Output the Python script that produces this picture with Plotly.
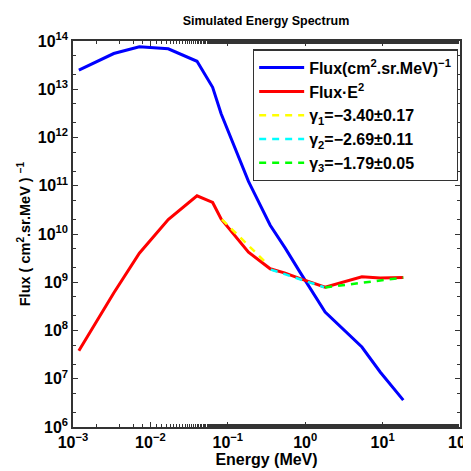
import plotly.graph_objects as go

# Data
energy = [0.00119, 0.00336, 0.0072, 0.0170, 0.040, 0.0637, 0.082, 0.185, 0.353, 0.552, 0.86, 1.81, 5.4, 9.3, 18.5]
flux = [2.5e13, 5.5e13, 7.6e13, 6.9e13, 3.8e13, 1.1e13, 3.1e12, 1.23e11, 1.52e10, 5.1e9, 1.6e9, 2.4e8, 4.55e7, 1.38e7, 3.6e6]
flux_e2 = [3.8e7, 6.0e8, 4.0e9, 2.0e10, 6.2e10, 4.5e10, 2.05e10, 4.2e9, 1.9e9, 1.55e9, 1.19e9, 7.9e8, 1.3e9, 1.22e9, 1.25e9]

fit1_e = [0.084, 0.305]
fit1_v = [2.0e10, 2.63e9]
fit2_e = [0.36, 1.75]
fit2_v = [1.83e9, 7.9e8]
fit3_e = [1.81, 18.5]
fit3_v = [7.8e8, 1.25e9]

names = [
    "Flux(cm<sup>2</sup>.sr.MeV)<sup>−1</sup>",
    "Flux·E<sup>2</sup>",
    "γ<sub>1</sub>=−3.40±0.17",
    "γ<sub>2</sub>=−2.69±0.11",
    "γ<sub>3</sub>=−1.79±0.05",
]

x_tickvals = [1e-3, 1e-2, 1e-1, 1, 10, 100]
x_ticktext = ["10<sup>−3</sup>", "10<sup>−2</sup>", "10<sup>−1</sup>", "10<sup>0</sup>", "10<sup>1</sup>", "10<sup>2</sup>"]
y_tickvals = [1e6, 1e7, 1e8, 1e9, 1e10, 1e11, 1e12, 1e13, 1e14]
y_ticktext = ["10<sup>%d</sup>" % k for k in range(6, 15)]

FONT = "Liberation Sans, Arial, Helvetica, sans-serif"

fig = go.Figure()
fig.add_trace(go.Scatter(x=energy, y=flux, mode="lines", name=names[0],
                         line=dict(color="#0000ff", width=3)))
fig.add_trace(go.Scatter(x=energy, y=flux_e2, mode="lines", name=names[1],
                         line=dict(color="#ff0000", width=3)))
fig.add_trace(go.Scatter(x=fit1_e, y=fit1_v, mode="lines", name=names[2],
                         line=dict(color="#ffff00", width=2.5, dash="7px,6px")))
fig.add_trace(go.Scatter(x=fit2_e, y=fit2_v, mode="lines", name=names[3],
                         line=dict(color="#00ffff", width=2.5, dash="7px,6px")))
fig.add_trace(go.Scatter(x=fit3_e, y=fit3_v, mode="lines", name=names[4],
                         line=dict(color="#00ff00", width=2.5, dash="7px,6px")))

axis_common = dict(
    type="log", showgrid=False, zeroline=False, showline=True, linecolor="#333333",
    linewidth=1.5, mirror="ticks", ticks="inside", ticklen=5, tickwidth=1, tickcolor="#333333",
    tickfont=dict(family=FONT, size=16, color="#000000", weight="bold"),
    minor=dict(ticks="inside", ticklen=3, tickcolor="#333333", showgrid=False),
    automargin=False, ticklabeloverflow="allow",
)

fig.update_xaxes(range=[-3, 2], tickvals=x_tickvals, ticktext=x_ticktext,
                 title=dict(text="Energy (MeV)", standoff=2,
                            font=dict(family=FONT, size=16, weight="bold", color="#000000")),
                 **axis_common)
fig.update_yaxes(range=[6, 14], tickvals=y_tickvals, ticktext=y_ticktext,
                 title=dict(text="Flux ( cm<sup>2</sup>.sr.MeV ) <sup>−1</sup>", standoff=4,
                            font=dict(family=FONT, size=14.5, weight="bold", color="#000000")),
                 **axis_common)

fig.update_layout(
    width=475, height=463,
    margin=dict(l=64.5, r=23, t=32.7, b=44.3),
    paper_bgcolor="white", plot_bgcolor="white",
    font=dict(family=FONT, color="#000000"),
    title=dict(text="Simulated Energy Spectrum", x=258 / 475, xanchor="center", y=0.972, yanchor="middle",
               font=dict(family=FONT, size=12.5, weight="bold", color="#000000")),
    legend=dict(x=0.465, y=0.978, xanchor="left", yanchor="top",
                bgcolor="white", bordercolor="#333333", borderwidth=1.2,
                font=dict(family=FONT, size=16, weight="bold", color="#000000"),
                itemwidth=45, tracegroupgap=0),
    showlegend=True,
)

fig.write_html("out.html")
